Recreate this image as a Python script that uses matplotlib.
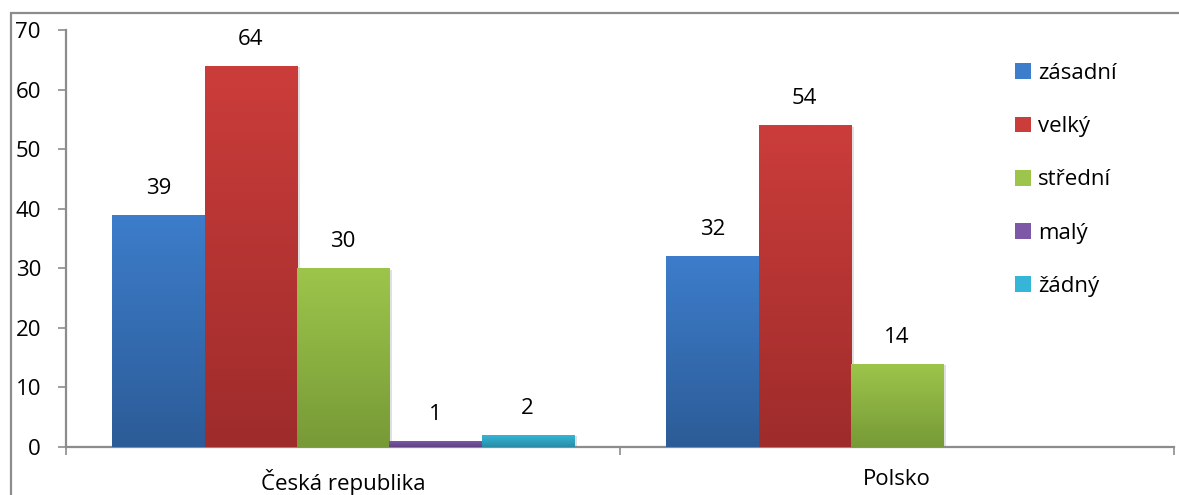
import numpy as np
import matplotlib.pyplot as plt
import matplotlib.patheffects as pe
from matplotlib.colors import LinearSegmentedColormap
from matplotlib.patches import Rectangle

plt.rcParams['font.family'] = ['Open Sans', 'DejaVu Sans']

countries = ['Česká republika', 'Polsko']
levels = ['zásadní', 'velký', 'střední', 'malý', 'žádný']
values = {
    'zásadní': [39, 32],
    'velký': [64, 54],
    'střední': [30, 14],
    'malý': [1, None],
    'žádný': [2, None],
}
# (top, bottom) gradient colours per series
shades = {
    'zásadní': ('#3D7DCB', '#2C5C97'),
    'velký': ('#CB3D3B', '#9E2C2B'),
    'střední': ('#9DC54B', '#779A37'),
    'malý': ('#7C58A6', '#5F4283'),
    'žádný': ('#35B6D6', '#2A8CA6'),
}
FS = 16

fig = plt.figure(figsize=(11.79, 4.95), dpi=100)
ax = fig.add_axes([66 / 1179, 1 - 447 / 495, (1174 - 66) / 1179, (447 - 30) / 495])

# outer chart frame
fig.patches.append(Rectangle((11 / 1179, -0.05), 1.2, 1 - 13 / 495 + 0.05,
                             transform=fig.transFigure, fill=False,
                             edgecolor='#8c8c8c', linewidth=1.6, zorder=0))

n = len(levels)
group_w = 1.0
bar_w = group_w / (n + 1)
x = np.arange(len(countries))

grad = np.linspace(0, 1, 256).reshape(-1, 1)
for i, lvl in enumerate(levels):
    top, bottom = shades[lvl]
    cmap = LinearSegmentedColormap.from_list(lvl, [bottom, top])
    xs, hs = [], []
    for j, v in enumerate(values[lvl]):
        if v is None:
            continue
        xs.append(x[j] - group_w / 2 + bar_w / 2 + i * bar_w + bar_w / 2)
        hs.append(v)
    bars = ax.bar(xs, hs, width=bar_w, color=top, label=lvl, zorder=2,
                  path_effects=[pe.SimplePatchShadow(offset=(2, -1), shadow_rgbFace='#000000', alpha=0.12),
                                pe.Normal()])
    for b, v in zip(bars, hs):
        im = ax.imshow(grad, cmap=cmap, aspect='auto', origin='lower',
                       extent=(b.get_x(), b.get_x() + b.get_width(), 0, v), zorder=3)
        im.set_clip_path(b)
        ax.annotate(str(v), (b.get_x() + b.get_width() / 2, v), xytext=(0, 19),
                    textcoords='offset points', ha='center', va='center',
                    fontsize=FS, color='black')

ax.set_xlim(-0.5, len(countries) - 0.5)
ax.set_ylim(0, 70)
ax.set_yticks(range(0, 71, 10))
ax.set_xticks(x)
ax.set_xticklabels(countries, fontsize=FS)
ax.set_xticks(np.arange(-0.5, len(countries), 1.0), minor=True)
ax.tick_params(axis='x', which='major', length=0, pad=16)
ax.tick_params(axis='x', which='minor', length=6, color='#8c8c8c', width=1.2, direction='out')
ax.tick_params(axis='y', length=6, color='#8c8c8c', width=1.2, labelsize=FS, pad=12)

for s in ['top', 'right']:
    ax.spines[s].set_visible(False)
for s in ['left', 'bottom']:
    ax.spines[s].set_color('#8c8c8c')
    ax.spines[s].set_linewidth(1.6)

leg = ax.legend(loc='upper left', bbox_to_anchor=((1015 - 66) / 1108, (447 - 63) / 417),
                frameon=False, borderaxespad=0, borderpad=0,
                fontsize=FS, handlelength=0.72, handleheight=0.72,
                handletextpad=0.3, labelspacing=1.45)
for h, lvl in zip(leg.legend_handles, levels):
    h.set_path_effects([])
    h.set_facecolor(shades[lvl][0])

fig.savefig('out.png', dpi=100)
